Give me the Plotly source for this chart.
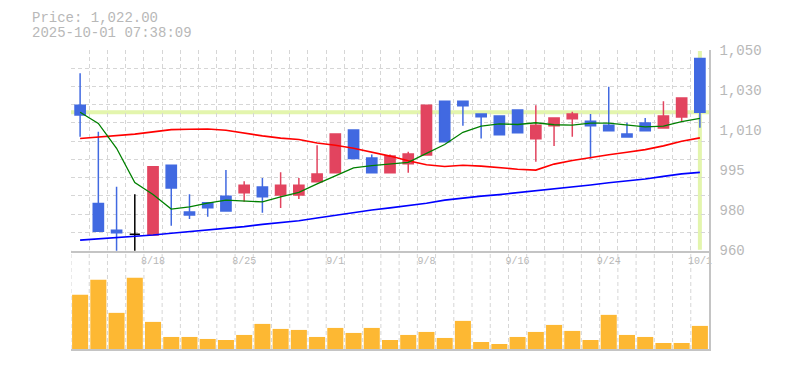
import plotly.graph_objects as go

# ---------------- data ----------------
dates = ["8/12", "8/13", "8/14", "8/15", "8/18", "8/19", "8/20", "8/21", "8/22",
         "8/25", "8/26", "8/27", "8/28", "8/29", "9/1", "9/2", "9/3", "9/4", "9/5",
         "9/8", "9/9", "9/10", "9/11", "9/12", "9/16", "9/17", "9/18", "9/19", "9/22",
         "9/24", "9/25", "9/26", "9/29", "9/30", "10/1"]

open_ = [1025.2, 981.0, 969.0, 967.2, 966.8, 998.2, 977.2, 981.3, 984.3, 985.8,
         988.4, 984.8, 984.8, 990.8, 994.8, 1014.0, 1001.5, 994.8, 998.9, 1002.8,
         1027.0, 1027.0, 1021.2, 1020.3, 1023.0, 1010.1, 1016.0, 1019.1, 1018.0, 1016.2,
         1012.2, 1017.2, 1014.9, 1019.9, 1046.2]
high = [1039.5, 1013.2, 988.5, 985.2, 997.5, 998.2, 985.2, 981.3, 996.0, 991.0,
        992.5, 995.0, 992.5, 1007.2, 1012.2, 1014.0, 1003.0, 1003.0, 1004.2, 1025.2,
        1027.0, 1027.0, 1021.2, 1020.3, 1023.0, 1025.2, 1019.4, 1022.2, 1021.2, 1033.5,
        1017.3, 1019.4, 1027.0, 1028.4, 1046.2]
low = [1011.0, 968.5, 958.0, 958.0, 966.8, 971.0, 974.0, 975.0, 977.6, 981.8,
       976.8, 979.0, 983.0, 990.8, 994.8, 1001.2, 994.8, 994.8, 994.8, 1002.8,
       1008.8, 1016.0, 1010.2, 1011.9, 1012.8, 999.8, 1006.8, 1011.0, 1001.2, 1013.7,
       1010.9, 1013.7, 1014.9, 1017.6, 1015.0]
close = [1020.8, 968.5, 967.8, 967.2, 997.5, 988.0, 975.8, 979.1, 977.6, 989.2,
         984.0, 989.2, 989.2, 994.2, 1012.2, 1001.2, 994.8, 1002.3, 1003.2, 1025.2,
         1008.8, 1024.9, 1020.0, 1011.9, 1012.8, 1016.2, 1019.4, 1021.2, 1016.0, 1013.7,
         1010.9, 1013.7, 1020.3, 1028.4, 1022.0]

ma_short = [1022.0, 1017.0, 1005.8, 990.4, 985.0, 978.5, 979.5, 981.2, 982.5, 982.2,
            981.7, 984.0, 986.0, 989.8, 993.3, 997.0, 998.0, 998.7, 999.5, 1003.5,
            1007.5, 1013.0, 1015.8, 1016.8, 1016.5, 1017.3, 1016.4, 1016.2, 1017.1, 1017.1,
            1016.2, 1015.4, 1015.8, 1017.8, 1019.3]
ma_mid = [1010.2, 1010.8, 1011.4, 1012.2, 1013.2, 1014.2, 1014.4, 1014.5, 1013.9, 1012.6,
          1011.4, 1010.4, 1009.8, 1008.2, 1007.2, 1005.8, 1004.2, 1002.3, 1000.2, 998.4,
          997.6, 998.2, 997.8, 997.0, 996.4, 996.0, 998.7, 1000.3, 1001.7, 1002.9,
          1004.0, 1005.2, 1006.9, 1009.0, 1010.5]
ma_long = [964.5, 965.0, 965.6, 966.1, 966.8, 967.6, 968.3, 969.0, 969.7, 970.6,
           971.6, 972.4, 973.2, 974.5, 975.8, 977.0, 978.1, 979.0, 980.0, 981.1,
           982.5, 983.5, 984.3, 985.0, 985.8, 986.6, 987.5, 988.4, 989.3, 990.3,
           991.1, 992.0, 993.2, 994.3, 995.0]

volume = [54, 69, 36, 71, 27, 12, 12, 10, 9, 14, 25, 20, 19, 12, 21, 16, 21, 9,
          14, 17, 11, 28, 7, 5, 12, 17, 24, 18, 9, 34, 14, 12, 6, 6, 23]

date_labels = ["8/18", "8/25", "9/1", "9/8", "9/16", "9/24", "10/1"]
price_tick_vals = [960, 978, 996, 1014, 1032, 1050]
price_tick_text = ["960", "980", "995", "1,010", "1,030", "1,050"]
timestamp = "2025-10-01 07:38:09"

# ---------------- style ----------------
UP = "#e2445f"
DOWN = "#4169e1"
VOL = "#fdb833"
GRID = "#d6d6d6"
AXIS = "#c4c4c4"
TXT = "#b8b8b8"
LAST = "#e3f5ad"
MONO = "Liberation Mono, DejaVu Sans Mono, monospace"

n = len(dates)
xs = list(range(n))
label_pos = [dates.index(d) for d in date_labels]

fig = go.Figure()

# empty trace so the overlay grid axes (square background grid) get drawn
fig.add_trace(go.Scatter(x=[None], y=[None], xaxis="x3", yaxis="y3", hoverinfo="skip"))

# moving averages (drawn under the candles)
for ys, col, w in [(ma_long, "#0000ff", 1.6), (ma_mid, "#ff0000", 1.6), (ma_short, "#008000", 1.3)]:
    fig.add_trace(go.Scatter(x=xs, y=ys, mode="lines", line=dict(color=col, width=w),
                             xaxis="x", yaxis="y", hoverinfo="skip"))

def candle_trace(idx, color):
    return go.Candlestick(
        x=[xs[i] for i in idx], open=[open_[i] for i in idx], high=[high[i] for i in idx],
        low=[low[i] for i in idx], close=[close[i] for i in idx],
        increasing=dict(line=dict(color=color, width=1.5), fillcolor=color),
        decreasing=dict(line=dict(color=color, width=1.5), fillcolor=color),
        whiskerwidth=0, xaxis="x", yaxis="y", hoverinfo="skip")

up_idx = [i for i in range(n) if close[i] > open_[i]]
down_idx = [i for i in range(n) if close[i] < open_[i]]
doji_idx = [i for i in range(n) if close[i] == open_[i]]
fig.add_trace(candle_trace(up_idx, UP))
fig.add_trace(candle_trace(down_idx, DOWN))
fig.add_trace(candle_trace(doji_idx, "#000000"))

# volume
fig.add_trace(go.Bar(x=xs, y=volume, marker=dict(color=VOL, line=dict(width=0)),
                     xaxis="x2", yaxis="y2", hoverinfo="skip"))

# dashed vertical grid of the volume panel (at day boundaries)
for i in xs:
    fig.add_shape(type="line", xref="x2", x0=i - 0.5, x1=i - 0.5, yref="y2 domain", y0=0, y1=1,
                  line=dict(color=GRID, width=1, dash="4px,3px"), layer="below")

# last price markers
fig.add_shape(type="line", xref="x domain", x0=0, x1=1, yref="y", y0=close[-1], y1=close[-1],
              line=dict(color=LAST, width=4), layer="below")
fig.add_shape(type="line", xref="x", x0=xs[-1], x1=xs[-1], yref="y domain", y0=0.005, y1=0.995,
              line=dict(color=LAST, width=4), layer="below")

# header text
fig.add_annotation(text=f"Price: {close[-1]:,.2f}", xref="paper", yref="paper",
                   x=-0.065, y=1.107, xanchor="left", yanchor="middle", showarrow=False,
                   font=dict(family=MONO, size=14, color=TXT))
fig.add_annotation(text=timestamp, xref="paper", yref="paper",
                   x=-0.065, y=1.057, xanchor="left", yanchor="middle", showarrow=False,
                   font=dict(family=MONO, size=14, color=TXT))

split = 0.329
grid_common = dict(showgrid=True, gridcolor=GRID, griddash="4px,3px", gridwidth=1)

fig.update_layout(
    width=777, height=362,
    margin=dict(l=63, r=76, t=42, b=21, autoexpand=False),
    paper_bgcolor="white", plot_bgcolor="white",
    showlegend=False, hovermode=False,
    boxgap=0.2, bargap=0.12,
    xaxis=dict(domain=[0, 1], anchor="y", range=[-0.5, n - 0.5],
               tickmode="array", tickvals=label_pos, ticktext=date_labels, tickangle=0,
               showgrid=False, zeroline=False,
               showline=True, linecolor=AXIS, linewidth=1.5, ticks="",
               tickfont=dict(family=MONO, size=10, color=TXT),
               rangeslider=dict(visible=False), fixedrange=True),
    xaxis3=dict(overlaying="x", anchor="y3", range=[-0.5, n - 0.5], tickmode="linear",
                tick0=-0.5, dtick=1, showticklabels=False, zeroline=False, showline=False,
                ticks="", fixedrange=True, **grid_common),
    xaxis2=dict(domain=[0, 1], anchor="y2", range=[-0.5, n - 0.5], showgrid=False,
                zeroline=False, showline=True, linecolor=AXIS, linewidth=1.5, ticks="",
                showticklabels=False, fixedrange=True),
    yaxis=dict(domain=[split, 1], anchor="x", side="right", range=[959.8, 1050],
               tickmode="array", tickvals=price_tick_vals, ticktext=price_tick_text,
               showgrid=False, zeroline=False, showline=True, linecolor=AXIS, linewidth=1.5,
               ticks="", ticklabelstandoff=6,
               tickfont=dict(family=MONO, size=14, color=TXT), fixedrange=True),
    yaxis3=dict(overlaying="y", anchor="x3", side="left", range=[0, 11], tickmode="linear",
                tick0=0, dtick=1, showticklabels=False, zeroline=False, showline=False,
                ticks="", fixedrange=True, **grid_common),
    yaxis2=dict(domain=[0, split], anchor="x2", side="right", range=[0, 98],
                showgrid=False, zeroline=False, showline=True, linecolor=AXIS, linewidth=1.5,
                showticklabels=False, ticks="", fixedrange=True),
)

fig.write_html("out.html")
